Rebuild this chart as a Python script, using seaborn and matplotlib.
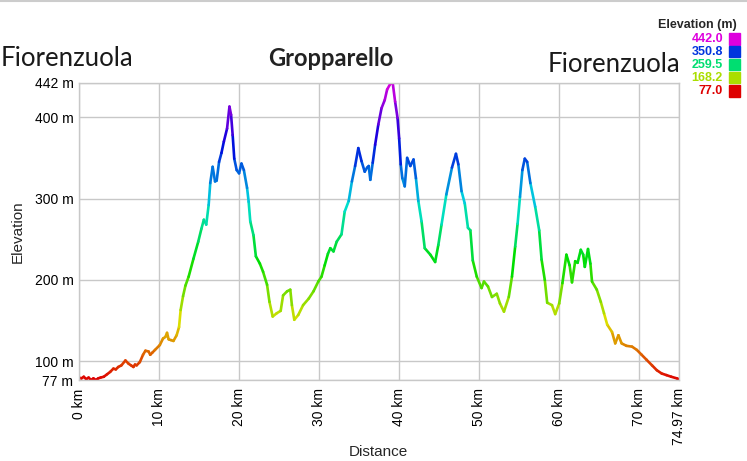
import colorsys
import matplotlib
matplotlib.use("Agg")
import matplotlib.pyplot as plt
from matplotlib.colors import ListedColormap
from matplotlib.patches import Rectangle
from matplotlib.lines import Line2D
import numpy as np
import pandas as pd
import seaborn as sns

# profile
dist_km = [0.0, 0.3, 0.6, 0.9, 1.2, 1.5, 1.8, 2.1, 2.4, 2.7, 3.1, 3.5, 3.9, 4.3, 4.6,
           4.9, 5.3, 5.8, 6.2, 6.5, 6.8, 7.0, 7.2, 7.6, 8.0, 8.3, 8.7, 8.9, 9.2, 9.5,
           10.1, 10.5, 10.8, 11.0, 11.2, 11.5, 11.8, 12.2, 12.5, 12.7, 13.0, 13.3, 13.7,
           14.3, 14.9, 15.3, 15.6, 15.9, 16.2, 16.4, 16.7, 17.0, 17.2, 17.5, 17.8, 18.1,
           18.5, 18.8, 19.0, 19.2, 19.4, 19.7, 20.0, 20.3, 20.6, 21.0, 21.2, 21.4, 21.8,
           22.1, 22.6, 23.0, 23.5, 23.8, 24.2, 24.7, 25.2, 25.5, 26.0, 26.4, 26.6, 26.9,
           27.4, 28.0, 28.7, 29.3, 29.9, 30.3, 30.7, 31.1, 31.4, 31.8, 32.2, 32.8, 33.2,
           33.7, 34.1, 34.5, 34.9, 35.3, 35.7, 36.0, 36.2, 36.4, 36.7, 37.0, 37.4, 37.8,
           38.2, 38.5, 38.9, 39.2, 39.5, 39.8, 40.0, 40.2, 40.4, 40.7, 41.0, 41.4, 41.8,
           42.1, 42.4, 42.8, 43.2, 43.9, 44.5, 44.9, 45.3, 45.9, 46.6, 47.1, 47.4, 47.8,
           48.2, 48.6, 48.9, 49.2, 49.7, 50.3, 50.6, 51.1, 51.6, 52.2, 52.6, 53.1, 53.7,
           54.1, 54.5, 54.8, 55.1, 55.4, 55.7, 56.0, 56.4, 57.0, 57.5, 57.8, 58.2, 58.5,
           59.1, 59.5, 60.0, 60.4, 60.9, 61.3, 61.6, 62.0, 62.3, 62.7, 63.0, 63.2, 63.6,
           63.9, 64.1, 64.7, 65.2, 65.6, 66.0, 66.6, 67.0, 67.4, 67.8, 68.4, 69.1, 69.7,
           70.3, 70.9, 71.6, 72.2, 72.8, 73.4, 74.0, 74.7, 74.97]
elev_m = [80, 79, 81, 78, 80, 77, 79, 77, 79, 80, 81, 84, 87, 91, 90,
          93, 95, 101, 97, 95, 93, 96, 95, 99, 108, 113, 112, 108, 111, 114,
          120, 128, 130, 135, 127, 126, 125, 132, 142, 163, 180, 193, 204,
          226, 247, 263, 274, 268, 292, 319, 339, 321, 322, 345, 356, 370,
          386, 413, 403, 378, 349, 335, 331, 343, 335, 313, 296, 272, 255,
          229, 220, 210, 194, 173, 155, 159, 162, 181, 186, 188, 169, 151,
          157, 169, 177, 186, 198, 204, 218, 232, 239, 235, 247, 256, 284,
          297, 321, 340, 362, 346, 333, 338, 340, 323, 344, 366, 391, 411,
          421, 434, 441, 442, 419, 399, 374, 342, 325, 315, 350, 340, 348,
          325, 297, 272, 239, 231, 222, 243, 268, 305, 338, 355, 342, 309,
          294, 264, 261, 224, 204, 190, 198, 192, 179, 183, 171, 161, 179,
          204, 241, 269, 302, 335, 349, 345, 319, 290, 261, 225, 200, 172,
          169, 158, 171, 196, 231, 218, 197, 223, 221, 237, 231, 216, 238,
          220, 198, 188, 173, 159, 145, 136, 122, 132, 122, 119, 118, 114,
          108, 102, 95, 89, 85, 83, 81, 79, 78]

y_ticks = [77, 100, 200, 300, 400, 442]
x_ticks = [0, 10, 20, 30, 40, 50, 60, 70, 74.97]
legend_values = [442.0, 350.8, 259.5, 168.2, 77.0]
places = ["Fiorenzuola", "Gropparello", "Fiorenzuola"]

e_min, e_max = 77.0, 442.0

# rainbow: red -> yellow -> green -> cyan -> blue -> magenta
cmap = ListedColormap([colorsys.hsv_to_rgb(h * 300 / 360, 1.0, 0.87)
                       for h in np.linspace(0, 1, 256)])

# one short segment per pair of points, coloured by its elevation
rows = []
for i in range(len(dist_km) - 1):
    mid = (elev_m[i] + elev_m[i + 1]) / 2
    rows.append({"seg": i, "km": dist_km[i], "elev": elev_m[i], "c": mid})
    rows.append({"seg": i, "km": dist_km[i + 1], "elev": elev_m[i + 1], "c": mid})
df = pd.DataFrame(rows)

sns.set_style("whitegrid", {"grid.color": "#c8c8c8", "axes.edgecolor": "#c8c8c8"})
plt.rcParams["font.family"] = ["Liberation Sans", "DejaVu Sans"]

fig = plt.figure(figsize=(7.47, 4.61), dpi=100)
ax = fig.add_axes([79 / 747, 81 / 461, 600 / 747, 297 / 461])

sns.lineplot(data=df, x="km", y="elev", hue="c", units="seg", estimator=None,
             palette=cmap, hue_norm=(e_min, e_max), legend=False, ax=ax,
             linewidth=1.9, solid_capstyle="round")

ax.set_xlim(0, 74.97)
ax.set_ylim(e_min, e_max)
ax.set_xticks(x_ticks)
ax.set_xticklabels([f"{int(t)} km" if t == int(t) else f"{t} km" for t in x_ticks],
                   rotation=90, fontsize=10)
ax.set_yticks(y_ticks)
ax.set_yticklabels([f"{t} m" for t in y_ticks], fontsize=10)
ax.tick_params(axis="both", length=0, colors="black")
ax.tick_params(axis="x", pad=6)
ax.tick_params(axis="y", pad=4)
ax.set_xlabel("")
ax.set_ylabel("")
for s in ax.spines.values():
    s.set_color("#c8c8c8")
    s.set_linewidth(1)
ax.grid(True, color="#c8c8c8", linewidth=1)

fig.text(18 / 747, 1 - 232 / 461, "Elevation", rotation=90, ha="center", va="center", fontsize=11)
fig.text(378 / 747, 1 - 452 / 461, "Distance", ha="center", va="center", fontsize=11)

# place names
fig.text(1 / 747, 1 - 58 / 461, places[0], ha="left", va="center",
         fontsize=18.5, family="Lato", color="#1a1a1a")
fig.text(331 / 747, 1 - 58 / 461, places[1], ha="center", va="center",
         fontsize=17, family="Lato", fontweight="bold", color="#222222")
fig.text(680 / 747, 1 - 65 / 461, places[2], ha="right", va="center",
         fontsize=18.5, family="Lato", color="#1a1a1a")

# legend
fig.text(737 / 747, 1 - 25 / 461, "Elevation (m)", ha="right", va="center",
         fontsize=9, fontweight="bold")
for k, v in enumerate(legend_values):
    yc = 39 + k * 13
    col = cmap((v - e_min) / (e_max - e_min))
    fig.text(723 / 747, 1 - yc / 461, f"{v:.1f}", ha="right", va="center",
             fontsize=9, fontweight="bold", color=col)
    fig.patches.append(Rectangle((729 / 747, 1 - (yc + 5.5) / 461), 11 / 747, 11 / 461,
                                 transform=fig.transFigure, color=col, figure=fig))

# thin rule along the top
fig.add_artist(Line2D([0, 1], [1 - 1.5 / 461, 1 - 1.5 / 461], color="#cccccc",
                      linewidth=1.5, transform=fig.transFigure))

fig.savefig("out.png", dpi=100)
